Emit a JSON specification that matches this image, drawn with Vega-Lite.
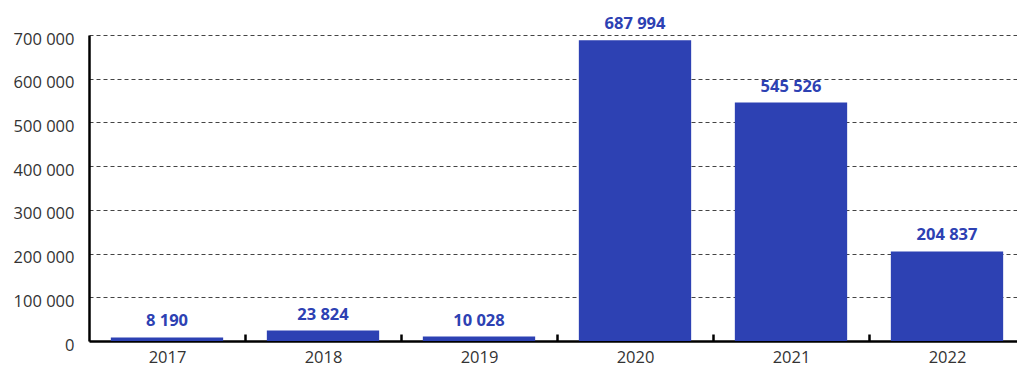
{
  "$schema": "https://vega.github.io/schema/vega-lite/v6.json",
  "width": 928,
  "height": 306,
  "autosize": {"type": "none"},
  "padding": {"left": 89, "top": 35, "right": 0, "bottom": 26},
  "config": {
    "view": {"stroke": null},
    "font": "Open Sans",
    "locale": {"number": {"decimal": ",", "thousands": " ", "grouping": [3], "currency": ["", ""]}}
  },
  "data": {
    "values": [
      {"year": "2017", "value": 8190},
      {"year": "2018", "value": 23824},
      {"year": "2019", "value": 10028},
      {"year": "2020", "value": 687994},
      {"year": "2021", "value": 545526},
      {"year": "2022", "value": 204837}
    ]
  },
  "encoding": {
    "x": {
      "field": "year",
      "type": "ordinal",
      "sort": null,
      "scale": {"range": [0, 936], "paddingInner": 0.28, "paddingOuter": 0.14},
      "axis": {
        "title": null,
        "labelAngle": 0,
        "labelFontSize": 16.5,
        "labelColor": "#333333",
        "labelPadding": 15.5,
        "tickOffset": 78,
        "labelOffset": -78,
        "domainColor": "#000000",
        "domainWidth": 2.5,
        "tickColor": "#000000",
        "tickWidth": 2.5,
        "tickSize": -7,
        "grid": false
      }
    },
    "y": {
      "field": "value",
      "type": "quantitative",
      "scale": {"domain": [0, 700000], "nice": false},
      "axis": {
        "title": null,
        "values": [0, 100000, 200000, 300000, 400000, 500000, 600000, 700000],
        "format": ",d",
        "labelFontSize": 16.5,
        "labelColor": "#333333",
        "labelPadding": 15,
        "labelOffset": 4,
        "ticks": false,
        "domainColor": "#000000",
        "domainWidth": 2.5,
        "gridColor": "#444444",
        "gridDash": [4, 3],
        "gridWidth": 1
      }
    }
  },
  "layer": [
    {"mark": {"type": "bar", "color": "#2d41b3"}},
    {
      "mark": {"type": "text", "baseline": "bottom", "dy": -8, "fontSize": 16.5, "fontWeight": "bold", "color": "#2d41b3"},
      "encoding": {"text": {"field": "value", "type": "quantitative", "format": ",d"}}
    }
  ]
}
